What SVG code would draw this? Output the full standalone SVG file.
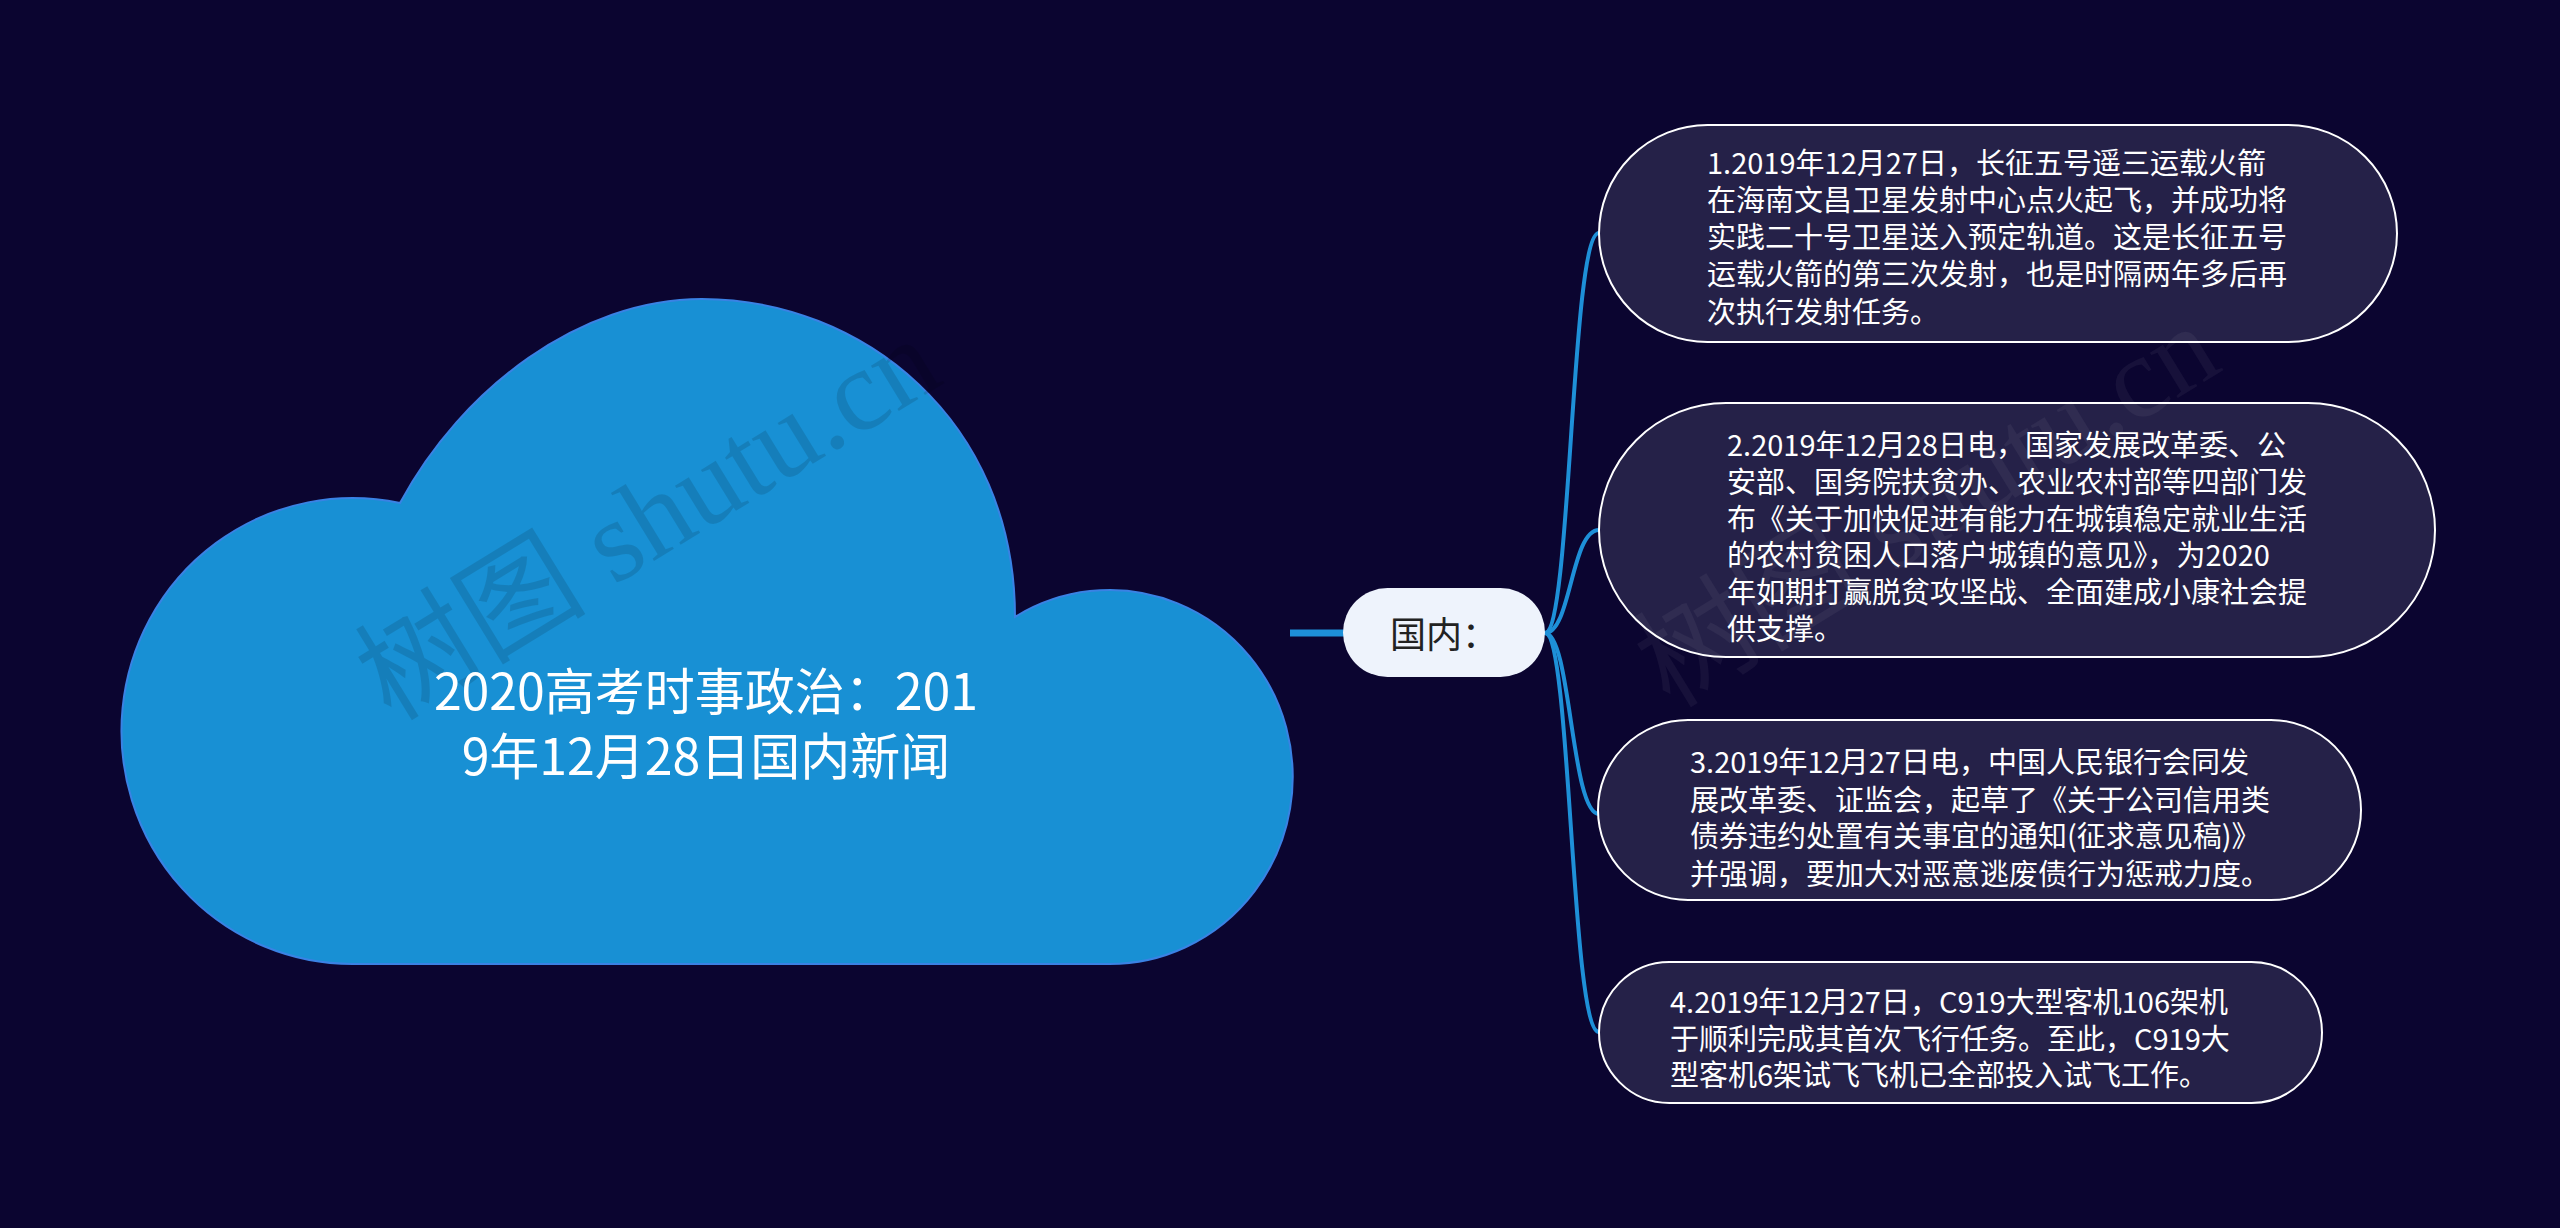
<svg xmlns="http://www.w3.org/2000/svg" width="2560" height="1228" viewBox="0 0 2560 1228">
<style>
.bg{fill:#0b0530}
.cloud{fill:#1890d4;stroke:#3a82e4;stroke-width:2}
.title{font-family:"Noto Sans CJK SC","Noto Sans",sans-serif;font-size:50px;fill:#ffffff;text-anchor:middle;dominant-baseline:central}
.leaf{fill:#252148;stroke:#ffffff;stroke-width:2}
.leaftext{font-family:"Noto Sans CJK SC","Noto Sans",sans-serif;font-size:29px;fill:#ffffff;dominant-baseline:central}
.mid{fill:#eef3fc}
.midtext{font-family:"Noto Sans CJK SC","Noto Sans",sans-serif;font-size:36px;fill:#222222;text-anchor:middle;dominant-baseline:central}
.conn{fill:none;stroke:#1e90d8;stroke-width:4;stroke-linecap:round}
.main{fill:none;stroke:#1e90d8;stroke-width:7}
.wm{font-family:"Liberation Serif","Noto Sans CJK SC",serif;font-size:116px;text-anchor:middle;dominant-baseline:central}
</style>
<rect class="bg" x="0" y="0" width="2560" height="1228"/>

<g id="root">
<path class="cloud" d="M 400,503 A 231 233 0 1 0 355,964 L 1108,964 A 183 187 0 1 0 1015,617 C 1015,420 862,299 702,299 C 580,299 462,388 400,503 Z"/>
<text class="wm" x="648" y="519" fill="#000000" fill-opacity="0.12" transform="rotate(-31.5 648 519)">树图 shutu.cn</text>
<text class="title" x="706" y="688">2020高考时事政治：201</text>
<text class="title" x="706" y="753">9年12月28日国内新闻</text>
</g>

<g id="connectors">
<line class="main" x1="1290" y1="633" x2="1346" y2="633"/>
<path class="conn" d="M 1545,633 C 1571,633 1571,233 1599,233"/>
<path class="conn" d="M 1545,633 C 1571,633 1571,530 1599,530"/>
<path class="conn" d="M 1545,633 C 1571,633 1571,814 1599,814"/>
<path class="conn" d="M 1545,633 C 1571,633 1571,1032 1599,1032"/>
</g>

<g id="node-guonei">
<rect class="mid" x="1343" y="588" width="202" height="89" rx="44.5"/>
<text class="midtext" x="1444" y="632">国内：</text>
</g>

<g id="node-1">
<rect class="leaf" x="1599" y="125" width="798" height="217" rx="108.5"/>
<text class="leaftext" x="1707" y="161">1.2019年12月27日，长征五号遥三运载火箭</text>
<text class="leaftext" x="1707" y="198">在海南文昌卫星发射中心点火起飞，并成功将</text>
<text class="leaftext" x="1707" y="235">实践二十号卫星送入预定轨道。这是长征五号</text>
<text class="leaftext" x="1707" y="272">运载火箭的第三次发射，也是时隔两年多后再</text>
<text class="leaftext" x="1707" y="310">次执行发射任务。</text>
</g>

<g id="node-2">
<rect class="leaf" x="1599" y="403" width="836" height="254" rx="127"/>
<text class="leaftext" x="1727" y="443">2.2019年12月28日电，国家发展改革委、公</text>
<text class="leaftext" x="1727" y="480">安部、国务院扶贫办、农业农村部等四部门发</text>
<text class="leaftext" x="1727" y="517">布《关于加快促进有能力在城镇稳定就业生活</text>
<text class="leaftext" x="1727" y="553">的农村贫困人口落户城镇的意见》，为2020</text>
<text class="leaftext" x="1727" y="590">年如期打赢脱贫攻坚战、全面建成小康社会提</text>
<text class="leaftext" x="1727" y="627">供支撑。</text>
</g>

<g id="node-3">
<rect class="leaf" x="1598" y="720" width="763" height="180" rx="90"/>
<text class="leaftext" x="1690" y="760">3.2019年12月27日电，中国人民银行会同发</text>
<text class="leaftext" x="1690" y="798">展改革委、证监会，起草了《关于公司信用类</text>
<text class="leaftext" x="1690" y="834">债券违约处置有关事宜的通知(征求意见稿)》</text>
<text class="leaftext" x="1690" y="872">并强调，要加大对恶意逃废债行为惩戒力度。</text>
</g>

<g id="node-4">
<rect class="leaf" x="1599" y="962" width="723" height="141" rx="70.5"/>
<text class="leaftext" x="1670" y="1000">4.2019年12月27日，C919大型客机106架机</text>
<text class="leaftext" x="1670" y="1037">于顺利完成其首次飞行任务。至此，C919大</text>
<text class="leaftext" x="1670" y="1073">型客机6架试飞飞机已全部投入试飞工作。</text>
</g>

<text class="wm" x="1927" y="506" fill="#ffffff" fill-opacity="0.05" transform="rotate(-31.5 1927 506)">树图 shutu.cn</text>
</svg>
